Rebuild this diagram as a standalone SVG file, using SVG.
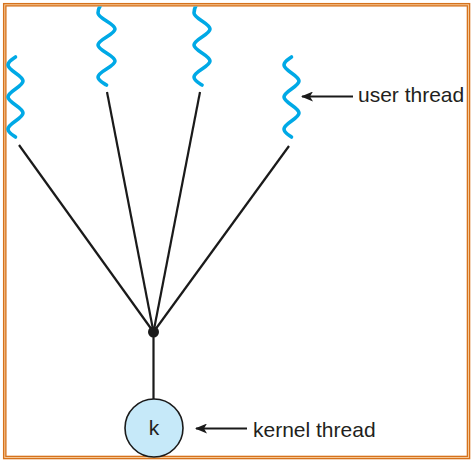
<svg xmlns="http://www.w3.org/2000/svg" width="472" height="463" viewBox="0 0 472 463">
<style>
.wave{fill:none;stroke:#00a9e6;stroke-width:3.6;stroke-linecap:round}
.edge{fill:none;stroke:#1a1a1a;stroke-width:2.2}
.arr{fill:none;stroke:#1a1a1a;stroke-width:2.2}
.lbl{font-family:"Liberation Sans",Arial,sans-serif;font-size:21px;fill:#231f20}
</style>
<defs>
<marker id="ah" viewBox="0 0 12 10" refX="11" refY="5" markerWidth="12" markerHeight="10" markerUnits="userSpaceOnUse" orient="auto">
<path d="M12,5 L0,0 L3,5 L0,10 Z" fill="#1a1a1a"/>
</marker>
<clipPath id="inner"><rect x="6.5" y="6.5" width="460" height="449"/></clipPath>
</defs>
<rect x="0" y="0" width="472" height="463" fill="#ffffff"/>
<rect x="4.75" y="4.75" width="463.75" height="452.75" fill="none" stroke="#d6721c" stroke-width="3.6"/>
<rect x="4.75" y="4.75" width="463.75" height="452.75" fill="none" stroke="#f5c896" stroke-width="1"/>
<g id="connectors">
<line class="edge" x1="19" y1="145" x2="153.5" y2="332"/>
<line class="edge" x1="107" y1="92" x2="153.5" y2="332"/>
<line class="edge" x1="200" y1="92" x2="153.5" y2="332"/>
<line class="edge" x1="289" y1="146" x2="153.5" y2="332"/>
<line class="edge" x1="153.5" y1="332" x2="153.5" y2="399"/>
<line class="arr" x1="353" y1="96.5" x2="302" y2="96.5" marker-end="url(#ah)"/>
<line class="arr" x1="247" y1="428.5" x2="196" y2="428.5" marker-end="url(#ah)"/>
</g>
<g id="user-thread-1">
<path class="wave" d="M15.5,57 C11.5,59.7 8,61.5 8,65 C8,70.5 23,75.5 23,81 C23,86.5 8,91.5 8,97 C8,102.5 23,107.5 23,113 C23,118.5 8,123.5 8,129 C8,132.5 11.5,134.3 15.5,137"/>
</g>
<g id="user-thread-2" clip-path="url(#inner)">
<path class="wave" d="M104,1 C100.5,4.5 98,8.5 98,13 C98,18.5 115,23.5 115,29 C115,34.5 98,39.5 98,45 C98,50.5 115,55.5 115,61 C115,66.5 98,71.5 98,77 C98,80.5 102.5,82.5 106.5,85"/>
</g>
<g id="user-thread-3" clip-path="url(#inner)">
<path class="wave" d="M199.5,1 C196,4.5 194,8.5 194,13 C194,18.5 210,23.5 210,29 C210,34.5 194,39.5 194,45 C194,50.5 210,55.5 210,61 C210,66.5 194,71.5 194,77 C194,80.5 198,82.5 202,85"/>
</g>
<g id="user-thread-4">
<path class="wave" d="M291.5,57 C287.5,59.7 284,61.5 284,65 C284,70.5 299,75.5 299,81 C299,86.5 284,91.5 284,97 C284,102.5 299,107.5 299,113 C299,118.5 284,123.5 284,129 C284,132.5 287.5,134.3 291.5,137"/>
</g>
<g id="junction">
<circle cx="153.5" cy="332" r="5.5" fill="#1a1a1a"/>
</g>
<g id="kernel-thread">
<circle cx="154" cy="428" r="29" fill="#c6e9f9" stroke="#1a1a1a" stroke-width="1.6"/>
<text class="lbl" x="154" y="435" text-anchor="middle">k</text>
</g>
<g id="label-user">
<text class="lbl" x="358" y="102">user thread</text>
</g>
<g id="label-kernel">
<text class="lbl" x="253" y="437">kernel thread</text>
</g>
</svg>
